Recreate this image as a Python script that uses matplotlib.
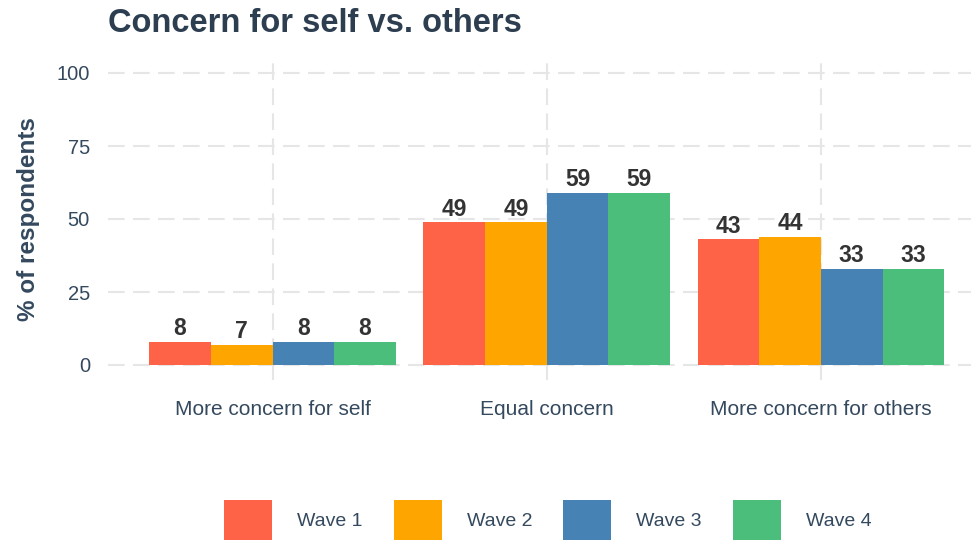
import matplotlib.pyplot as plt
import numpy as np
from matplotlib.patches import Patch

plt.rcParams["font.family"] = ["Liberation Sans", "DejaVu Sans"]

categories = ["More concern for self", "Equal concern", "More concern for others"]
waves = ["Wave 1", "Wave 2", "Wave 3", "Wave 4"]
values = {
    "Wave 1": [8, 49, 43],
    "Wave 2": [7, 49, 44],
    "Wave 3": [8, 59, 33],
    "Wave 4": [8, 59, 33],
}
colors = ["#FF6347", "#FFA500", "#4682B4", "#4CBE7B"]
yticks = [0, 25, 50, 75, 100]

TEXT = "#34495E"
TITLE = "#2C3E50"
GRID = "#E6E6E6"

fig = plt.figure(figsize=(9.71, 5.42), dpi=100)
ax = fig.add_axes([108 / 971, 1 - 379.6 / 542, 1 - 108 / 971, (379.6 - 58.4) / 542])

x = np.arange(1, len(categories) + 1)
bw = 0.9 / len(waves)
for i, (w, c) in enumerate(zip(waves, colors)):
    pos = x - 0.45 + bw * (i + 0.5)
    bars = ax.bar(pos, values[w], width=bw, color=c, zorder=2)
    for b, v in zip(bars, values[w]):
        ax.annotate(f"{v}", (b.get_x() + b.get_width() / 2, v),
                    xytext=(0, 1), textcoords="offset points",
                    ha="center", va="bottom", fontsize=16.5,
                    fontweight="bold", color="#333333", zorder=3)

ax.set_xlim(0.4, 3 + (971 - 821) / 274)
ax.set_ylim(-5, 105)
ax.set_xticks(x)
ax.set_xticklabels(categories)
ax.set_yticks(yticks)

ax.grid(True, color=GRID, linewidth=1.5, linestyle=(0, (8, 4)), zorder=0)
ax.set_axisbelow(True)
for s in ax.spines.values():
    s.set_visible(False)
ax.tick_params(length=0, labelsize=14.5, labelcolor=TEXT)
ax.tick_params(axis="x", labelsize=15, pad=15)
ax.tick_params(axis="y", pad=13)

ax.set_ylabel("% of respondents", fontsize=17.5, fontweight="bold",
              color=TEXT, labelpad=12)

fig.text(108 / 971, 1 - 32 / 542, "Concern for self vs. others",
         fontsize=23.5, fontweight="bold", color=TITLE, ha="left", va="baseline")

handles = [Patch(facecolor=c, edgecolor="none") for c in colors]
fig.legend(handles, waves, loc="center", bbox_to_anchor=(548 / 971, 1 - 520 / 542),
           ncol=4, frameon=False, fontsize=14, labelcolor=TEXT,
           handlelength=2.45, handleheight=2.75, handletextpad=1.3,
           columnspacing=1.6, borderpad=0)

fig.savefig("out.png", dpi=100)
